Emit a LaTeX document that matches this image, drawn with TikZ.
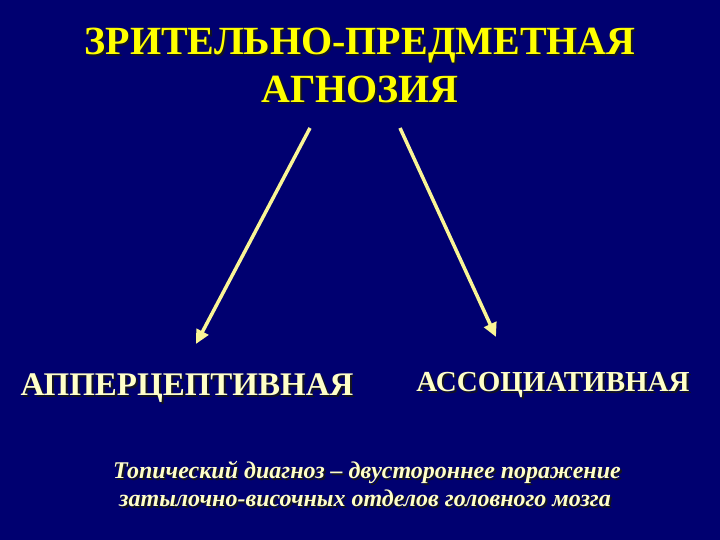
\documentclass[tikz,border=0pt]{standalone}
\usepackage{fontspec}
\setmainfont{Liberation Serif}
\usetikzlibrary{arrows.meta}
\definecolor{bg}{RGB}{0,0,112}
\definecolor{ttl}{RGB}{255,255,0}
\definecolor{lbl}{RGB}{255,255,200}
\definecolor{arr}{RGB}{250,245,150}
\definecolor{shd}{RGB}{20,20,30}
\newcommand\shtext[1]{\leavevmode\rlap{\kern2pt\raisebox{-2pt}{\color{shd}#1}}#1}
\begin{document}
\begin{tikzpicture}[x=1pt,y=1pt,
  ttlstyle/.style={text=ttl,font=\bfseries\fontsize{40}{44}\selectfont,inner sep=0pt,anchor=base},
  lblstyle/.style={text=lbl,inner sep=0pt,anchor=base},
  notestyle/.style={text=lbl,font=\bfseries\itshape\fontsize{24}{28}\selectfont,inner sep=0pt,anchor=base},
  arrstyle/.style={draw=arr,line width=3.5pt,-{Triangle[length=14pt,width=13pt]}}]
\fill[bg] (0,0) rectangle (720,540);
\useasboundingbox (0,0) rectangle (720,540);
% title
\node[ttlstyle] (t1) at (360,485) {\shtext{ЗРИТЕЛЬНО-ПРЕДМЕТНАЯ}};
\node[ttlstyle] (t2) at (360,437) {\shtext{АГНОЗИЯ}};
% labels
\node[lblstyle,font=\bfseries\fontsize{33}{36}\selectfont] (ap) at (187,144) {\shtext{АППЕРЦЕПТИВНАЯ}};
\node[lblstyle,font=\bfseries\fontsize{29}{32}\selectfont] (as) at (553,148) {\shtext{АССОЦИАТИВНАЯ}};
% note
\node[notestyle] (n1) at (367,61) {\shtext{Топический диагноз – двустороннее поражение}};
\node[notestyle] (n2) at (365,33) {\shtext{затылочно-височных отделов головного мозга}};
% arrows
\coordinate (s1) at (310,412);
\coordinate (e1) at (196,196);
\coordinate (s2) at (400,412);
\coordinate (e2) at (496,203);
\draw[arrstyle] (s1) -- (e1);
\draw[arrstyle] (s2) -- (e2);
\end{tikzpicture}
\end{document}
